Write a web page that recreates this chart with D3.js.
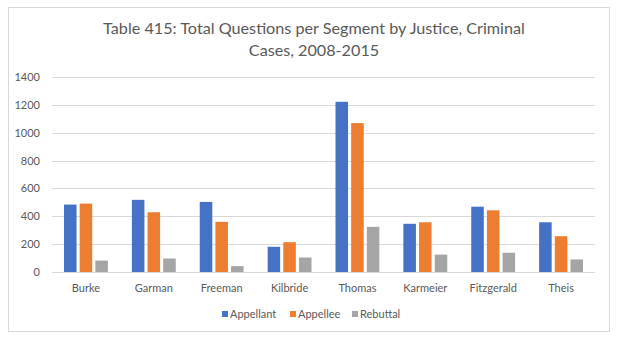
<!DOCTYPE html>
<html>
<head>
<meta charset="utf-8">
<script src="https://cdn.jsdelivr.net/npm/d3@7"></script>
<style>
  body { margin: 0; background: #fff; }
  svg text { font-family: Lato, "Open Sans", sans-serif; }
</style>
</head>
<body>
<div id="chart"></div>
<script>
// chart data
const justices = ["Burke","Garman","Freeman","Kilbride","Thomas","Karmeier","Fitzgerald","Theis"]
const seriesNames = ["Appellant","Appellee","Rebuttal"]
const appellant = [484, 518, 503, 181, 1222, 346, 469, 357]
const appellee = [491, 429, 360, 214, 1069, 357, 443, 257]
const rebuttal = [82, 97, 42, 104, 324, 125, 138, 90]
const yTicks = [0, 200, 400, 600, 800, 1000, 1200, 1400]
const titleLines = ["Table 415: Total Questions per Segment by Justice, Criminal", "Cases, 2008-2015"]

const width = 620, height = 341
const margin = {top: 77, right: 25, bottom: 69, left: 52}
const innerWidth = width - margin.left - margin.right
const innerHeight = height - margin.top - margin.bottom

const svg = d3.select("#chart").append("svg").attr("width", width).attr("height", height)

// outer frame
svg.append("rect")
  .attr("x", 8.5).attr("y", 7.5).attr("width", 601).attr("height", 324)
  .attr("fill", "#fff").attr("stroke", "#d9d9d9")

// title
svg.append("g").selectAll("text")
  .data(titleLines)
  .enter().append("text")
  .attr("x", 314)
  .attr("y", (d, i) => 34 + i * 22)
  .attr("text-anchor", "middle")
  .attr("font-size", 16.2)
  .attr("fill", "#595959")
  .text(d => d)

const g = svg.append("g").attr("transform", `translate(${margin.left},${margin.top})`)

let x0 = d3.scaleBand().domain(justices).range([0, innerWidth])
let x1 = d3.scaleBand().domain(seriesNames).range([12, x0.bandwidth() - 12]).paddingInner(0.2)
let y = d3.scaleLinear().domain([0, 1400]).range([innerHeight, 0])
let color = d3.scaleOrdinal().domain(seriesNames).range(["#4472C4", "#ED7D31", "#A5A5A5"])

// gridlines
g.selectAll(".grid")
  .data(yTicks)
  .enter().append("line")
  .attr("x1", 0).attr("x2", innerWidth)
  .attr("y1", d => Math.round(y(d)) + 0.5).attr("y2", d => Math.round(y(d)) + 0.5)
  .attr("stroke", "#d9d9d9")

// y labels
const yAxis = g.append("g")
  .call(d3.axisLeft(y).tickValues(yTicks).tickFormat(d3.format("d")).tickSize(0).tickPadding(12))
yAxis.select(".domain").remove()
yAxis.selectAll("text").attr("font-size", 11).attr("fill", "#595959").style("font-family", "Lato, sans-serif")

// x labels
const xAxis = g.append("g")
  .attr("transform", `translate(0,${innerHeight})`)
  .call(d3.axisBottom(x0).tickSize(0).tickPadding(12))
xAxis.select(".domain").remove()
xAxis.selectAll("text").attr("font-size", 11).attr("fill", "#595959").style("font-family", "Lato, sans-serif")

// bars
const rows = justices.map((j, i) => ({
  name: j,
  values: [appellant[i], appellee[i], rebuttal[i]].map((v, k) => ({key: seriesNames[k], value: v}))
}))

g.selectAll(".group")
  .data(rows)
  .enter().append("g")
  .attr("class", "group")
  .attr("transform", d => `translate(${x0(d.name)},0)`)
  .selectAll("rect")
  .data(d => d.values)
  .enter().append("rect")
  .attr("x", d => x1(d.key))
  .attr("width", x1.bandwidth())
  .attr("y", d => y(d.value))
  .attr("height", d => innerHeight - y(d.value))
  .attr("fill", d => color(d.key))

// legend
const legendX = [222, 290, 352]
const legend = svg.append("g").attr("transform", "translate(0,318)")
const item = legend.selectAll(".legend")
  .data(seriesNames)
  .enter().append("g")
  .attr("transform", (d, i) => `translate(${legendX[i]},0)`)
item.append("rect")
  .attr("x", 0).attr("y", -7).attr("width", 6).attr("height", 6)
  .attr("fill", d => color(d))
item.append("text")
  .attr("x", 8).attr("y", 0)
  .attr("font-size", 11).attr("fill", "#595959")
  .text(d => d)
</script>
</body>
</html>
